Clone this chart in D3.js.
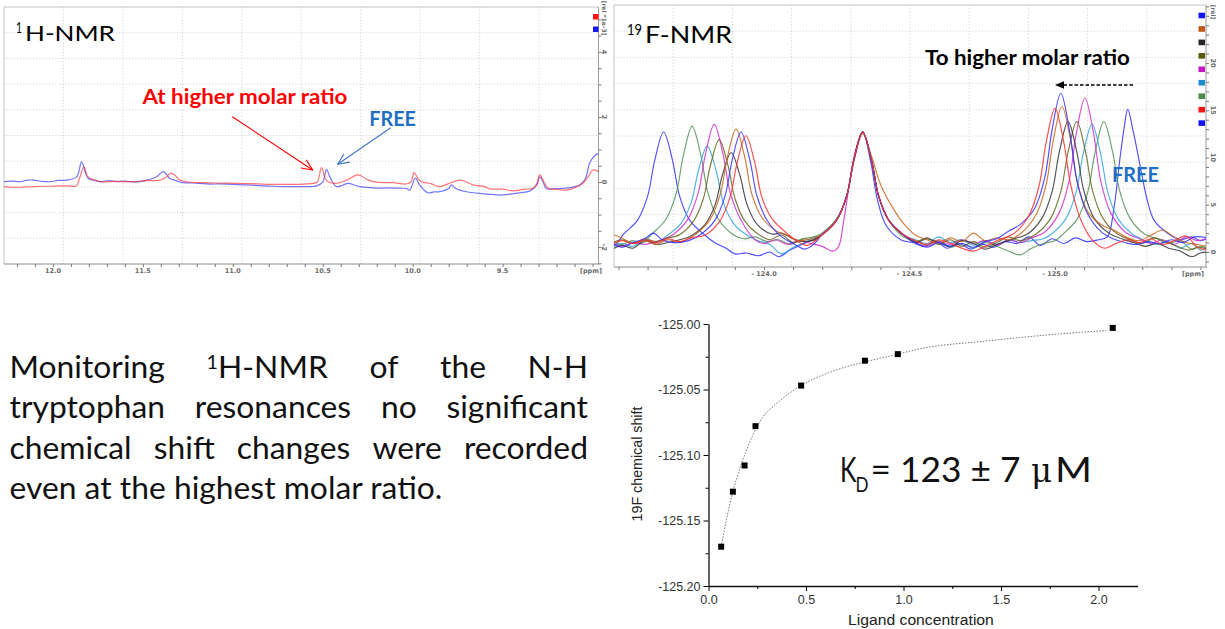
<!DOCTYPE html>
<html>
<head>
<meta charset="utf-8">
<script src="https://cdn.jsdelivr.net/npm/d3@7/dist/d3.min.js"></script>
<style>
html,body{margin:0;padding:0;background:#fff;}
svg{display:block;}
</style>
</head>
<body>
<script>
// ======================= DATA =======================
// ---- 1H-NMR panel (ppm, rel *1e-3)
const h1PpmRange = [12.272, 8.967];
const h1RelRange = [-2.52, 5.38];
const h1PpmTicks = [12.0, 11.5, 11.0, 10.5, 10.0, 9.5];
const h1RelTicks = [-2, 0, 2, 4];
const h1Free = [[12.272,0.01],[12.23,0.03],[12.183,0.01],[12.15,0.05],[12.109,0.06],[12.06,0.02],[12.017,0.01],[11.97,0.05],[11.924,0.06],[11.868,0.16],[11.841,0.62],[11.82,0.3],[11.804,0.11],[11.77,0.05],[11.739,0.01],[11.69,0.04],[11.646,0.01],[11.6,0.03],[11.554,0.0],[11.517,0.01],[11.424,0.16],[11.387,0.32],[11.35,0.11],[11.32,0.05],[11.276,-0.02],[11.22,-0.03],[11.146,-0.06],[11.07,-0.06],[10.998,-0.07],[10.92,-0.09],[10.85,-0.11],[10.78,-0.13],[10.72,-0.14],[10.628,-0.14],[10.56,-0.14],[10.535,-0.12],[10.5,0.0],[10.479,0.39],[10.46,0.15],[10.424,-0.14],[10.39,-0.1],[10.359,-0.04],[10.32,-0.1],[10.294,-0.14],[10.24,-0.17],[10.183,-0.19],[10.14,-0.18],[10.072,-0.19],[10.035,-0.2],[10.016,-0.25],[9.985,0.12],[9.96,-0.1],[9.915,-0.33],[9.88,-0.3],[9.85,-0.3],[9.8,-0.2],[9.785,-0.09],[9.76,-0.2],[9.739,-0.25],[9.7,-0.3],[9.628,-0.35],[9.58,-0.37],[9.517,-0.4],[9.47,-0.38],[9.405,-0.33],[9.35,-0.28],[9.31,-0.1],[9.294,0.16],[9.275,0.0],[9.257,-0.2],[9.2,-0.2],[9.146,-0.19],[9.1,-0.14],[9.072,-0.09],[9.04,0.1],[9.017,0.57],[8.99,0.8],[8.967,0.88]];
const h1HighRatio = [[12.272,-0.14],[12.23,-0.16],[12.183,-0.16],[12.14,-0.15],[12.109,-0.14],[12.06,-0.13],[12.017,-0.13],[11.97,-0.12],[11.924,-0.12],[11.87,-0.12],[11.855,0.06],[11.828,0.47],[11.81,0.2],[11.794,0.11],[11.76,0.05],[11.739,0.01],[11.646,0.02],[11.554,0.01],[11.48,0.04],[11.406,0.06],[11.37,0.15],[11.346,0.27],[11.32,0.2],[11.294,0.06],[11.25,0.0],[11.183,-0.02],[11.1,-0.03],[10.998,-0.04],[10.9,-0.05],[10.813,-0.07],[10.72,-0.07],[10.628,-0.07],[10.554,-0.04],[10.53,0.0],[10.507,0.44],[10.485,0.1],[10.47,0.01],[10.424,-0.04],[10.37,0.05],[10.304,0.22],[10.26,0.1],[10.22,0.01],[10.15,-0.02],[10.109,-0.02],[10.035,-0.06],[10.01,0.0],[9.992,0.29],[9.97,0.1],[9.952,0.01],[9.9,-0.05],[9.85,-0.14],[9.8,-0.05],[9.739,0.06],[9.7,0.0],[9.665,-0.09],[9.6,-0.14],[9.572,-0.21],[9.5,-0.22],[9.443,-0.27],[9.38,-0.22],[9.331,-0.19],[9.31,-0.05],[9.294,0.22],[9.27,0.0],[9.248,-0.19],[9.2,-0.22],[9.146,-0.25],[9.1,-0.18],[9.054,-0.04],[9.02,0.2],[8.998,0.37],[8.967,0.32]];

// ---- 19F-NMR panel (ppm, rel)
const f19PpmRange = [-123.4845, -125.519];
const f19RelRange = [-1.587, 26.14];
const f19PpmTicks = [-124.0, -124.5, -125.0];
const f19RelTicks = [0, 5, 10, 15, 20];
const f19Free = [[-123.475,0.6],[-123.495,0.9],[-123.515,1.82],[-123.565,3.34],[-123.6,5.91],[-123.625,9.78],[-123.655,12.7],[-123.685,9.78],[-123.71,5.91],[-123.745,3.34],[-123.795,1.82],[-123.83,1.0],[-123.87,0.4],[-123.9,-0.2],[-123.94,-0.1],[-123.98,-0.4],[-124.02,0.0],[-124.05,-0.5],[-124.09,0.2],[-124.13,0.8],[-124.17,1.3],[-124.199,1.82],[-124.249,3.34],[-124.284,5.91],[-124.309,9.78],[-124.339,12.7],[-124.367,9.5],[-124.39,5.5],[-124.42,2.8],[-124.47,1.3],[-124.51,1.0],[-124.55,0.6],[-124.59,1.1],[-124.63,0.4],[-124.67,0.9],[-124.71,0.3],[-124.75,0.8],[-124.79,0.5],[-124.83,1.1],[-124.87,0.9],[-124.91,1.6],[-124.95,0.7],[-124.99,1.4],[-125.03,0.9],[-125.07,1.5],[-125.11,1.1],[-125.15,1.3],[-125.18,1.6],[-125.202,4.5],[-125.222,9.6],[-125.238,13.2],[-125.25,15.1],[-125.27,12.6],[-125.294,8.9],[-125.317,5.5],[-125.34,3.4],[-125.386,2.0],[-125.43,1.3],[-125.47,1.6],[-125.5,1.2],[-125.525,1.5]];
const f19Green = [[-123.475,1.2],[-123.51,0.8],[-123.55,1.2],[-123.58,0.9],[-123.613,1.86],[-123.663,3.46],[-123.698,6.17],[-123.723,10.23],[-123.753,13.3],[-123.783,10.23],[-123.808,6.17],[-123.843,3.46],[-123.893,1.86],[-123.93,1.4],[-123.97,1.6],[-124.01,1.1],[-124.05,1.3],[-124.09,0.8],[-124.13,1.4],[-124.17,1.6],[-124.199,2.0],[-124.249,3.5],[-124.284,5.91],[-124.309,9.78],[-124.339,12.7],[-124.369,9.78],[-124.394,5.91],[-124.429,3.34],[-124.479,1.6],[-124.52,1.2],[-124.56,0.7],[-124.6,1.2],[-124.64,0.5],[-124.68,0.9],[-124.72,0.4],[-124.76,1.0],[-124.8,0.6],[-124.84,0.1],[-124.88,-0.3],[-124.92,0.4],[-124.96,0.9],[-125.0,1.2],[-125.028,1.9],[-125.078,3.56],[-125.113,6.38],[-125.138,10.6],[-125.168,13.8],[-125.198,10.6],[-125.223,6.38],[-125.258,3.56],[-125.308,1.9],[-125.35,1.4],[-125.39,0.9],[-125.43,1.2],[-125.47,0.3],[-125.5,0.6],[-125.525,0.4]];
const f19Cyan = [[-123.475,0.4],[-123.51,0.9],[-123.55,0.6],[-123.59,1.3],[-123.63,1.0],[-123.665,1.71],[-123.715,3.04],[-123.75,5.28],[-123.775,8.65],[-123.805,11.2],[-123.835,8.65],[-123.86,5.28],[-123.895,3.04],[-123.945,1.71],[-123.98,1.2],[-124.02,0.8],[-124.06,-0.2],[-124.1,0.5],[-124.14,1.0],[-124.17,1.5],[-124.199,1.82],[-124.249,3.34],[-124.284,5.91],[-124.309,9.78],[-124.339,12.7],[-124.369,9.78],[-124.394,5.91],[-124.429,3.34],[-124.479,1.8],[-124.52,1.3],[-124.56,0.9],[-124.6,1.6],[-124.64,1.0],[-124.68,1.3],[-124.72,0.7],[-124.76,1.2],[-124.8,0.8],[-124.84,1.3],[-124.88,1.0],[-124.92,1.2],[-124.96,1.4],[-124.987,1.88],[-125.037,3.5],[-125.072,6.25],[-125.097,10.38],[-125.127,13.5],[-125.157,10.38],[-125.182,6.25],[-125.217,3.5],[-125.267,1.88],[-125.31,1.2],[-125.35,0.8],[-125.39,1.1],[-125.43,0.4],[-125.47,0.9],[-125.5,0.2],[-125.525,0.5]];
const f19Magenta = [[-123.475,1.0],[-123.51,0.6],[-123.55,1.0],[-123.59,0.8],[-123.64,1.2],[-123.689,1.88],[-123.739,3.5],[-123.774,6.25],[-123.799,10.38],[-123.829,13.5],[-123.859,10.38],[-123.884,6.25],[-123.919,3.5],[-123.969,1.3],[-124.0,0.9],[-124.04,1.3],[-124.08,0.8],[-124.12,1.2],[-124.16,0.9],[-124.2,0.6],[-124.235,0.1],[-124.255,0.5],[-124.275,3.5],[-124.295,7.5],[-124.315,10.8],[-124.339,12.7],[-124.369,9.78],[-124.394,5.91],[-124.429,3.34],[-124.479,1.82],[-124.52,1.0],[-124.56,0.6],[-124.6,1.1],[-124.64,0.8],[-124.68,1.3],[-124.72,0.9],[-124.76,1.2],[-124.8,0.7],[-124.84,1.3],[-124.88,1.0],[-124.92,1.5],[-124.963,2.07],[-125.013,4.06],[-125.048,7.43],[-125.073,12.48],[-125.103,16.3],[-125.133,12.48],[-125.158,7.43],[-125.193,4.06],[-125.243,2.07],[-125.29,1.4],[-125.33,0.9],[-125.37,1.3],[-125.41,0.8],[-125.45,1.6],[-125.49,1.2],[-125.525,1.5]];
const f19Olive = [[-123.475,0.9],[-123.51,1.3],[-123.55,0.9],[-123.59,1.4],[-123.63,1.1],[-123.67,1.5],[-123.706,1.76],[-123.756,3.18],[-123.791,5.58],[-123.816,9.18],[-123.846,11.9],[-123.876,9.18],[-123.901,5.58],[-123.936,3.18],[-123.986,1.76],[-124.02,1.3],[-124.06,1.8],[-124.1,1.0],[-124.14,1.4],[-124.17,1.2],[-124.199,1.82],[-124.249,3.34],[-124.284,5.91],[-124.309,9.78],[-124.339,12.7],[-124.369,9.78],[-124.394,5.91],[-124.429,3.34],[-124.479,1.82],[-124.52,1.1],[-124.56,1.5],[-124.6,0.8],[-124.64,1.3],[-124.68,0.6],[-124.72,1.1],[-124.76,0.5],[-124.8,1.0],[-124.84,1.6],[-124.88,1.2],[-124.935,1.9],[-124.985,3.56],[-125.02,6.38],[-125.045,10.6],[-125.075,13.8],[-125.105,10.6],[-125.13,6.38],[-125.165,3.56],[-125.215,1.9],[-125.26,1.3],[-125.3,0.9],[-125.34,1.5],[-125.38,1.1],[-125.42,0.6],[-125.46,0.2],[-125.49,0.5],[-125.525,0.3]];
const f19Gray = [[-123.475,0.2],[-123.51,0.7],[-123.55,0.4],[-123.59,1.2],[-123.63,0.8],[-123.67,1.0],[-123.71,1.3],[-123.747,1.67],[-123.797,2.9],[-123.832,4.99],[-123.857,8.13],[-123.887,10.5],[-123.917,8.13],[-123.942,4.99],[-123.977,2.9],[-124.027,1.9],[-124.06,2.0],[-124.1,1.4],[-124.14,1.1],[-124.17,1.3],[-124.199,1.82],[-124.249,3.34],[-124.284,5.91],[-124.309,9.78],[-124.339,12.7],[-124.369,9.78],[-124.394,5.91],[-124.429,3.34],[-124.479,1.82],[-124.52,1.0],[-124.56,1.4],[-124.6,1.0],[-124.64,0.6],[-124.68,1.2],[-124.72,0.9],[-124.76,0.3],[-124.8,0.8],[-124.84,1.2],[-124.87,1.5],[-124.905,1.9],[-124.955,3.56],[-124.99,6.38],[-125.015,10.6],[-125.045,13.8],[-125.075,10.6],[-125.1,6.38],[-125.135,3.56],[-125.185,2.0],[-125.23,1.4],[-125.27,1.0],[-125.31,0.6],[-125.35,0.9],[-125.39,0.4],[-125.43,0.1],[-125.47,-0.5],[-125.5,-0.1],[-125.525,0.0]];
const f19Orange = [[-123.475,1.9],[-123.51,1.5],[-123.55,0.9],[-123.59,1.2],[-123.63,0.8],[-123.67,1.3],[-123.71,1.0],[-123.74,1.4],[-123.764,1.84],[-123.814,3.4],[-123.849,6.04],[-123.874,10.0],[-123.904,13.0],[-123.934,10.0],[-123.959,6.04],[-123.994,3.6],[-124.044,2.2],[-124.08,1.8],[-124.12,1.2],[-124.16,1.4],[-124.199,1.82],[-124.249,3.34],[-124.284,5.91],[-124.309,9.6],[-124.339,12.5],[-124.369,10.2],[-124.4,7.2],[-124.44,4.8],[-124.48,3.0],[-124.52,1.8],[-124.56,1.3],[-124.6,0.9],[-124.64,1.5],[-124.68,1.1],[-124.72,2.0],[-124.76,1.2],[-124.8,1.5],[-124.84,1.3],[-124.884,2.01],[-124.934,3.88],[-124.969,7.05],[-124.994,11.8],[-125.024,15.4],[-125.054,11.8],[-125.079,7.05],[-125.114,4.2],[-125.164,2.8],[-125.21,2.2],[-125.25,1.5],[-125.29,1.2],[-125.33,1.8],[-125.37,2.3],[-125.41,1.6],[-125.45,1.0],[-125.49,0.8],[-125.525,0.6]];
const f19Blue = [[-123.475,1.0],[-123.51,0.5],[-123.55,1.0],[-123.59,1.4],[-123.62,2.0],[-123.65,1.3],[-123.69,1.0],[-123.74,1.2],[-123.781,1.82],[-123.831,3.34],[-123.866,5.91],[-123.891,9.78],[-123.921,12.7],[-123.951,9.78],[-123.976,5.91],[-124.011,3.34],[-124.061,1.6],[-124.1,0.9],[-124.14,0.3],[-124.17,0.8],[-124.199,1.82],[-124.249,3.34],[-124.284,5.91],[-124.309,9.78],[-124.339,12.7],[-124.369,9.78],[-124.394,5.91],[-124.429,3.34],[-124.479,1.82],[-124.52,1.0],[-124.56,0.5],[-124.6,1.0],[-124.64,0.6],[-124.68,0.9],[-124.72,0.5],[-124.76,1.1],[-124.8,1.4],[-124.84,2.2],[-124.88,2.9],[-124.93,4.6],[-124.965,7.9],[-124.99,12.9],[-125.02,16.8],[-125.05,12.85],[-125.075,7.64],[-125.11,4.16],[-125.16,2.11],[-125.2,1.4],[-125.24,1.0],[-125.28,0.8],[-125.32,1.1],[-125.36,0.9],[-125.4,1.3],[-125.44,1.0],[-125.48,1.6],[-125.525,1.5]];
const f19Red = [[-123.475,0.8],[-123.51,1.2],[-123.55,0.9],[-123.59,1.3],[-123.63,1.0],[-123.67,1.4],[-123.71,1.1],[-123.75,1.5],[-123.798,1.79],[-123.848,3.26],[-123.883,5.75],[-123.908,9.48],[-123.938,12.3],[-123.968,9.48],[-123.993,5.75],[-124.028,3.5],[-124.078,2.0],[-124.11,1.2],[-124.15,0.7],[-124.18,1.3],[-124.199,1.82],[-124.249,3.34],[-124.284,5.91],[-124.309,9.78],[-124.339,12.7],[-124.369,9.78],[-124.394,5.91],[-124.429,3.34],[-124.479,1.82],[-124.52,1.2],[-124.56,0.8],[-124.6,1.3],[-124.64,0.9],[-124.68,0.4],[-124.72,0.1],[-124.76,0.6],[-124.8,1.2],[-124.86,1.99],[-124.91,3.84],[-124.945,6.96],[-124.97,11.65],[-125.0,15.2],[-125.03,11.65],[-125.055,6.96],[-125.09,3.3],[-125.13,1.2],[-125.17,0.4],[-125.21,0.9],[-125.25,1.3],[-125.29,1.0],[-125.33,1.4],[-125.37,0.8],[-125.41,1.2],[-125.45,1.7],[-125.49,0.5],[-125.525,0.2]];
const f19DrawOrder = ['Free','Green','Cyan','Magenta','Olive','Gray','Orange','Blue','Red'];
const f19LegendOrder = ['Blue','Orange','Gray','Olive','Magenta','Cyan','Green','Red','Free'];

// ---- binding curve
const ligandConc = [0.065, 0.125, 0.185, 0.241, 0.475, 0.802, 0.971, 2.073];
const shift19F   = [-125.170, -125.128, -125.108, -125.078, -125.047, -125.028, -125.023, -125.003];
const fitConc  = [0.065, 0.091, 0.125, 0.159, 0.193, 0.227, 0.279, 0.347, 0.475, 0.638, 0.802, 0.971, 1.082, 1.424, 1.766, 2.04];
const fitShift = [-125.170, -125.150, -125.128, -125.111, -125.097, -125.085, -125.071, -125.061, -125.047, -125.036, -125.029, -125.023, -125.019, -125.013, -125.008, -125.005];
const concRange = [0, 2.2];
const shiftRange = [-125.2, -125.0];
const concTicks = [0, 0.5, 1.0, 1.5, 2.0];
const concMinorTicks = [0.25, 0.75, 1.25, 1.75];
const shiftTicks = [-125.20, -125.15, -125.10, -125.05, -125.00];
const shiftMinorTicks = [-125.175, -125.125, -125.075, -125.025];

// ---- paragraph text
const paraLines = [
  ['Monitoring', '^1H-NMR', 'of', 'the', 'N-H'],
  ['tryptophan', 'resonances', 'no', 'significant'],
  ['chemical', 'shift', 'changes', 'were', 'recorded'],
  ['even at the highest molar ratio.']
];

// ======================= STYLES =======================
const f19Colors = {Free:'#3030ff', Blue:'#3030ff', Orange:'#c8651f', Gray:'#303030', Olive:'#63631a',
  Magenta:'#d02cd0', Cyan:'#34a4dc', Green:'#519156', Red:'#ff2e2e'};
const f19LegendColors = {Free:'#1414ff', Blue:'#1414ff', Orange:'#c0561a', Gray:'#262626', Olive:'#58580a',
  Magenta:'#c418c8', Cyan:'#1e8ac8', Green:'#4a8a4a', Red:'#ff1010'};
const FONT = 'Lato, "Open Sans", "Noto Sans", sans-serif';
const TICKFONT = '"DejaVu Sans", sans-serif';
const ARIAL = '"Liberation Sans", Arial, sans-serif';
const BLUE_TXT = '#1f6fc4';

// ======================= DRAW =======================
const W = 1225, H = 629;
const svg = d3.select('body').append('svg').attr('width', W).attr('height', H);
svg.append('rect').attr('width', W).attr('height', H).attr('fill', '#fff');
const defs = svg.append('defs');

function sqText(parent, x, y, width, size, opts, build) {
  const g = parent.append('g').attr('transform', `translate(${x},${y})`);
  const t = g.append('text').attr('x', 0).attr('y', 0)
    .style('font-family', opts.family || FONT).style('font-size', size + 'px')
    .style('font-weight', opts.weight || 'normal').attr('fill', opts.fill || '#000');
  if (typeof build === 'string') t.text(build); else build(t);
  if (width) {
    const w = t.node().getComputedTextLength();
    g.attr('transform', `translate(${x},${y}) scale(${width / w},1)`);
  }
  return g;
}

function panelFrame(P, id) {
  const g = svg.append('g');
  const w = P.x1 - P.x0, h = P.y1 - P.y0;
  const div = d3.range(1, 10);
  g.selectAll('line.gv').data(div).join('line').attr('class', 'gv')
    .attr('x1', i => P.x0 + w * i / 10).attr('x2', i => P.x0 + w * i / 10)
    .attr('y1', P.y0).attr('y2', P.y1)
    .attr('stroke', '#c9c9c9').attr('stroke-width', 0.8).attr('stroke-dasharray', '1.2,2');
  g.selectAll('line.gh').data(div).join('line').attr('class', 'gh')
    .attr('y1', i => P.y0 + h * i / 10).attr('y2', i => P.y0 + h * i / 10)
    .attr('x1', P.x0).attr('x2', P.x1)
    .attr('stroke', '#c9c9c9').attr('stroke-width', 0.8).attr('stroke-dasharray', '1.2,2');
  g.append('path').attr('d', `M${P.x0},${P.y1}V${P.y0}H${P.x1}`)
    .attr('fill', 'none').attr('stroke', '#c4c4c4').attr('stroke-width', 1);
  g.append('line').attr('x1', P.x0).attr('x2', P.x1 + 1).attr('y1', P.y1).attr('y2', P.y1)
    .attr('stroke', '#8c8c8c').attr('stroke-width', 1);
  g.append('line').attr('x1', P.x1).attr('x2', P.x1).attr('y1', P.y0).attr('y2', P.y1)
    .attr('stroke', '#9c9c9c').attr('stroke-width', 1);
  defs.append('clipPath').attr('id', id).append('rect')
    .attr('x', P.x0).attr('y', P.y0).attr('width', w).attr('height', h);
}

function bottomAxis(P, x, minor, major, fmt, labelY, unitX) {
  const g = svg.append('g').attr('transform', `translate(0,${P.y1})`);
  g.call(d3.axisBottom(x).tickValues(minor).tickSize(3).tickFormat(''));
  g.select('.domain').remove();
  g.selectAll('line').attr('stroke', '#7a7a7a');
  svg.append('g').selectAll('text').data(major).join('text')
    .attr('x', d => x(d)).attr('y', labelY).attr('text-anchor', 'middle')
    .style('font-family', TICKFONT).style('font-size', '6.5px').style('font-weight', 'bold')
    .attr('fill', '#6a6a6a').text(fmt);
  svg.append('text').attr('x', unitX).attr('y', labelY).attr('text-anchor', 'middle')
    .style('font-family', TICKFONT).style('font-size', '6.5px').style('font-weight', 'bold')
    .attr('fill', '#6a6a6a').text('[ppm]');
}

function rightAxis(P, y, minor, major, labelX, unit, unitY) {
  const g = svg.append('g').attr('transform', `translate(${P.x1},0)`);
  g.call(d3.axisRight(y).tickValues(minor).tickSize(3).tickFormat(''));
  g.select('.domain').remove();
  g.selectAll('line').attr('stroke', '#7a7a7a');
  svg.append('g').selectAll('text').data(major).join('text')
    .attr('transform', d => `translate(${labelX},${y(d)}) rotate(90)`)
    .attr('text-anchor', 'middle')
    .style('font-family', TICKFONT).style('font-size', '6.5px').style('font-weight', 'bold')
    .attr('fill', '#6a6a6a').text(d => d);
  svg.append('text').attr('transform', `translate(${labelX},${unitY}) rotate(90)`)
    .attr('text-anchor', 'middle')
    .style('font-family', TICKFONT).style('font-size', '6px').style('font-weight', 'bold')
    .attr('fill', '#6a6a6a').text(unit);
}

function arrowOpen(x1, y1, x2, y2, color, len, ang) {
  const g = svg.append('g').attr('stroke', color).attr('fill', 'none').attr('stroke-width', 1.1);
  g.append('line').attr('x1', x1).attr('y1', y1).attr('x2', x2).attr('y2', y2);
  const a = Math.atan2(y2 - y1, x2 - x1);
  const p1 = [x2 - len * Math.cos(a - ang), y2 - len * Math.sin(a - ang)];
  const p2 = [x2 - len * Math.cos(a + ang), y2 - len * Math.sin(a + ang)];
  g.append('path').attr('d', `M${p1[0]},${p1[1]}L${x2},${y2}L${p2[0]},${p2[1]}`);
}

// ---------------- 1H-NMR panel ----------------
const P1 = {x0: 4, x1: 598.5, y0: 7, y1: 264};
const xH = d3.scaleLinear().domain(h1PpmRange).range([P1.x0, P1.x1]);
const yH = d3.scaleLinear().domain(h1RelRange).range([P1.y1, P1.y0]);
panelFrame(P1, 'clipH');
bottomAxis(P1, xH, d3.range(90, 123).map(v => v / 10), h1PpmTicks, d => d.toFixed(1), 273, 591);
rightAxis(P1, yH, d3.range(-5, 11).map(v => v / 2), h1RelTicks, 602, '[rel *1e-3]', 18);

const lineH = d3.line().x(d => xH(d[0])).y(d => yH(d[1])).curve(d3.curveCatmullRom.alpha(0.5));
const gH = svg.append('g').attr('clip-path', 'url(#clipH)');
gH.append('path').datum(h1Free).attr('d', lineH).attr('fill', 'none')
  .attr('stroke', '#3a3aff').attr('stroke-opacity', 0.7).attr('stroke-width', 1.2);
gH.append('path').datum(h1HighRatio).attr('d', lineH).attr('fill', 'none')
  .attr('stroke', '#ff2a2a').attr('stroke-opacity', 0.65).attr('stroke-width', 1.2);
svg.append('rect').attr('x', 593).attr('y', 14).attr('width', 5.5).attr('height', 5.5).attr('fill', '#ff1010');
svg.append('rect').attr('x', 593).attr('y', 26.5).attr('width', 5.5).attr('height', 5.5).attr('fill', '#1414ff');

sqText(svg, 16, 32.5, 6, 15, {}, '1');
sqText(svg, 25, 40.7, 90, 21.5, {}, 'H-NMR');
sqText(svg, 142.5, 104, 205, 21, {weight: 'bold', fill: '#ff0000'}, 'At higher molar ratio');
arrowOpen(232.3, 116.7, 312.7, 170, '#ff0000', 12, 0.42);
sqText(svg, 369.3, 126, 46.7, 20, {weight: 'bold', fill: BLUE_TXT}, 'FREE');
arrowOpen(390.7, 127.7, 337.7, 164.3, '#3d72c8', 12, 0.42);

// ---------------- 19F-NMR panel ----------------
const P2 = {x0: 614, x1: 1206, y0: 5, y1: 267};
const xF = d3.scaleLinear().domain(f19PpmRange).range([P2.x0, P2.x1]);
const yF = d3.scaleLinear().domain(f19RelRange).range([P2.y1, P2.y0]);
panelFrame(P2, 'clipF');
bottomAxis(P2, xF, d3.range(-1255, -1234).map(v => v / 10), f19PpmTicks,
  d => '- ' + Math.abs(d).toFixed(1), 276, 1193);
rightAxis(P2, yF, d3.range(-1, 27), f19RelTicks, 1211, '[rel]', 12);

const f19Data = {Free: f19Free, Green: f19Green, Cyan: f19Cyan, Magenta: f19Magenta, Olive: f19Olive,
  Gray: f19Gray, Orange: f19Orange, Blue: f19Blue, Red: f19Red};
const lineF = d3.line().x(d => xF(d[0])).y(d => yF(d[1])).curve(d3.curveCatmullRom.alpha(0.5));
const gF = svg.append('g').attr('clip-path', 'url(#clipF)');
gF.selectAll('path').data(f19DrawOrder).join('path')
  .attr('d', k => lineF(f19Data[k])).attr('fill', 'none')
  .attr('stroke', k => f19Colors[k]).attr('stroke-opacity', 0.85).attr('stroke-width', 1.15);
svg.append('g').selectAll('rect').data(f19LegendOrder).join('rect')
  .attr('x', 1198.5).attr('y', (k, i) => 12.7 + i * 13.45).attr('width', 6.5).attr('height', 5.6)
  .attr('fill', k => f19LegendColors[k]);

sqText(svg, 627, 35, 15, 15, {}, '19');
sqText(svg, 645, 43.3, 87, 22.5, {}, 'F-NMR');
sqText(svg, 925, 65, 205, 21, {weight: 'bold', fill: '#000'}, 'To higher molar ratio');
svg.append('line').attr('x1', 1133).attr('y1', 85).attr('x2', 1062).attr('y2', 85)
  .attr('stroke', '#000').attr('stroke-width', 1.6).attr('stroke-dasharray', '3.5,2');
svg.append('path').attr('d', 'M1055,85L1064,81.2L1064,88.8Z').attr('fill', '#000');
sqText(svg, 1112, 181.7, 47, 21, {weight: 'bold', fill: BLUE_TXT}, 'FREE');

// ---------------- paragraph ----------------
(function () {
  const size = 31, left = 9.5, right = 588, baselines = [377.5, 418, 458.5, 498.5];
  const lastW = 433;
  const pg = svg.append('g');
  function build(t, w) {
    if (w.startsWith('^1')) {
      t.append('tspan').style('font-size', '0.62em').attr('dy', -9).text('1');
      t.append('tspan').attr('dy', 9).text(w.slice(2));
    } else t.text(w);
  }
  function natural(w) {
    const t = pg.append('text').style('font-family', FONT).style('font-size', size + 'px');
    build(t, w);
    const len = t.node().getComputedTextLength();
    t.remove();
    return len;
  }
  const k = lastW / natural(paraLines[3][0]);
  paraLines.forEach((words, li) => {
    const widths = words.map(w => natural(w) * k);
    const y = baselines[li];
    if (li === paraLines.length - 1) {
      sqText(pg, left, y, widths[0], size, {fill: '#111'}, t => build(t, words[0]));
      return;
    }
    const gap = (right - left - d3.sum(widths)) / (words.length - 1);
    let x = left;
    words.forEach((w, i) => {
      sqText(pg, x, y, widths[i], size, {fill: '#111'}, t => build(t, w));
      x += widths[i] + gap;
    });
  });
})();

// ---------------- binding curve ----------------
const B = {x0: 708.5, x1: 1137.5, y0: 324, y1: 586};
const xB = d3.scaleLinear().domain(concRange).range([B.x0, B.x1]);
const yB = d3.scaleLinear().domain(shiftRange).range([B.y1, B.y0]);

const axX = svg.append('g').attr('transform', `translate(0,${B.y1})`)
  .call(d3.axisBottom(xB).tickValues(concTicks).tickSize(5).tickSizeOuter(0).tickPadding(4)
    .tickFormat(d => d.toFixed(1)));
svg.append('g').attr('transform', `translate(0,${B.y1})`)
  .call(d3.axisBottom(xB).tickValues(concMinorTicks).tickSize(3).tickSizeOuter(0).tickFormat(''))
  .call(g => g.select('.domain').remove());
const axY = svg.append('g').attr('transform', `translate(${B.x0},0)`)
  .call(d3.axisLeft(yB).tickValues(shiftTicks).tickSize(5).tickSizeOuter(0).tickPadding(3)
    .tickFormat(d => d.toFixed(2)));
svg.append('g').attr('transform', `translate(${B.x0},0)`)
  .call(d3.axisLeft(yB).tickValues(shiftMinorTicks).tickSize(3).tickSizeOuter(0).tickFormat(''))
  .call(g => g.select('.domain').remove());
svg.selectAll('.domain').attr('stroke', '#111').attr('stroke-width', 1.3);
[axX, axY].forEach(a => {
  a.selectAll('text').style('font-family', ARIAL).style('font-size', '12.5px').attr('fill', '#333');
});

svg.append('path').datum(d3.zip(fitConc, fitShift))
  .attr('d', d3.line().x(d => xB(d[0])).y(d => yB(d[1])).curve(d3.curveMonotoneX))
  .attr('fill', 'none').attr('stroke', '#777').attr('stroke-width', 1).attr('stroke-dasharray', '1.5,1.5');
svg.append('g').selectAll('rect').data(d3.zip(ligandConc, shift19F)).join('rect')
  .attr('x', d => xB(d[0]) - 3).attr('y', d => yB(d[1]) - 3).attr('width', 6).attr('height', 6)
  .attr('fill', '#000');

sqText(svg, 848, 625, 146, 14.5, {family: ARIAL, fill: '#222'}, 'Ligand concentration');
(function () {
  const g = svg.append('g').attr('transform', 'translate(642,464) rotate(-90)');
  const t = g.append('text').attr('text-anchor', 'middle').style('font-family', ARIAL)
    .style('font-size', '14px').attr('fill', '#222').text('19F chemical shift');
  const w = t.node().getComputedTextLength();
  t.attr('transform', `scale(${115 / w},1)`);
})();

// K_D label
sqText(svg, 840, 481.7, 16.5, 35, {fill: '#111'}, 'K');
sqText(svg, 855.5, 491.7, 13, 21, {fill: '#111'}, 'D');
sqText(svg, 870.5, 481.7, 150, 35, {fill: '#111'}, '= 123 ± 7');
sqText(svg, 1031, 481.7, 21, 33, {family: '"DejaVu Serif", serif', fill: '#111'}, 'μ');
sqText(svg, 1055, 481.7, 37, 35, {fill: '#111'}, 'M');
</script>
</body>
</html>
